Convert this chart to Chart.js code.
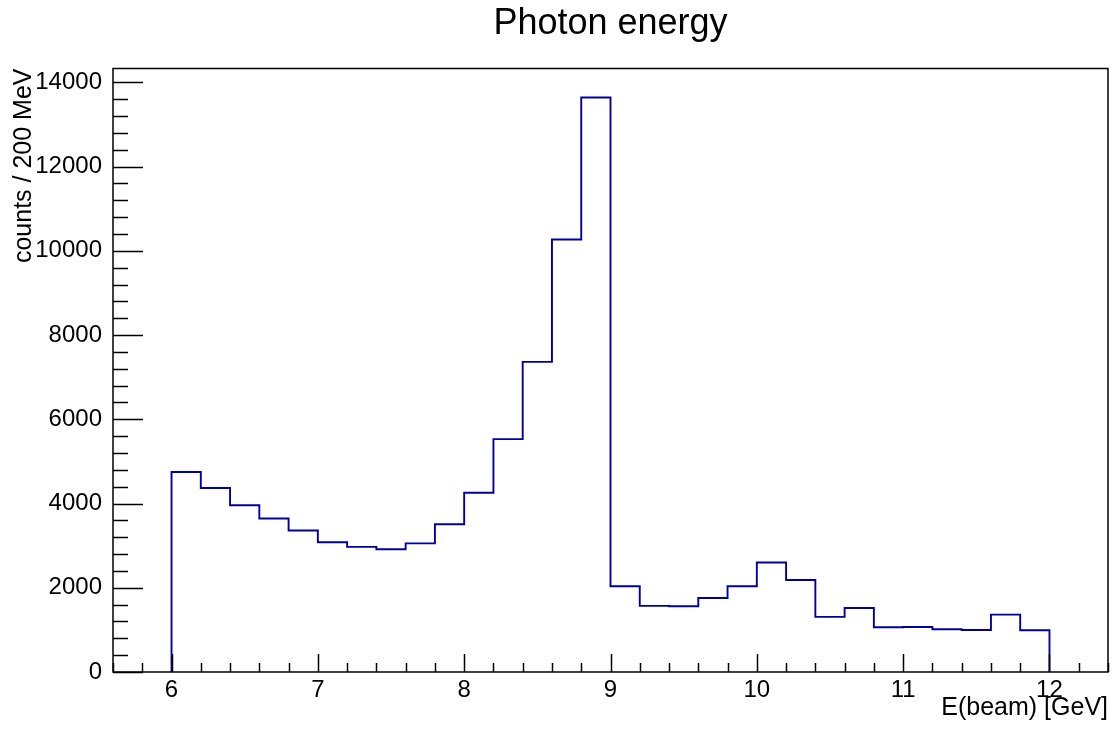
<!DOCTYPE html>
<html>
<head>
<meta charset="utf-8">
<title>Photon energy</title>
<script src="https://cdn.jsdelivr.net/npm/chart.js@4/dist/chart.umd.min.js"></script>
<style>
  html, body { margin: 0; padding: 0; background: #fff; }
  #chart { display: block; }
</style>
</head>
<body>
<canvas id="chart" width="1114" height="729"></canvas>
<script>
// bin low edges (200 MeV bins), in GeV
const binEdges = [
  6.0, 6.2, 6.4, 6.6, 6.8, 7.0, 7.2, 7.4, 7.6, 7.8,
  8.0, 8.2, 8.4, 8.6, 8.8, 9.0, 9.2, 9.4, 9.6, 9.8,
  10.0, 10.2, 10.4, 10.6, 10.8, 11.0, 11.2, 11.4, 11.6, 11.8
];
const binUpper = 12.0;

// counts per bin
const counts = [
  4750, 4370, 3960, 3645, 3360, 3080, 2970, 2915, 3055, 3510,
  4255, 5530, 7365, 10270, 13640, 2036, 1570, 1560, 1758, 2036,
  2600, 2185, 1308, 1520, 1062, 1068, 1014, 998, 1363, 990
];

const xTickLabels = [6, 7, 8, 9, 10, 11, 12];
const yTickLabels = [0, 2000, 4000, 6000, 8000, 10000, 12000, 14000];

const X_MIN = 5.6, X_MAX = 12.4;
const Y_MAX = 14330;
const FONT = '"Liberation Sans", Arial, sans-serif';

// histogram outline as step points (horizontal first, then vertical)
const points = [{ x: binEdges[0], y: 0 }, { x: binEdges[0], y: counts[0] }];
for (let i = 1; i < binEdges.length; i++) points.push({ x: binEdges[i], y: counts[i] });
points.push({ x: binUpper, y: counts[counts.length - 1] });
points.push({ x: binUpper, y: 0 });

// ROOT-style frame, inward ticks and centred title
const rootFrame = {
  id: 'rootFrame',
  afterDraw(chart) {
    const { ctx, chartArea: a, scales: { x, y } } = chart;
    ctx.save();
    ctx.strokeStyle = '#000';
    ctx.lineWidth = 1.5;

    // x ticks: major every 1 GeV, minor every 0.2 GeV
    ctx.beginPath();
    for (let k = 28; k <= 62; k++) {
      const px = Math.round(x.getPixelForValue(k / 5)) + 0.5;
      const len = k % 5 === 0 ? 18 : 9;
      ctx.moveTo(px, a.bottom);
      ctx.lineTo(px, a.bottom - len);
    }
    // y ticks: major every 2000, minor every 400
    for (let v = 0; v <= Y_MAX; v += 400) {
      const py = Math.round(y.getPixelForValue(v)) + 0.5;
      const len = v % 2000 === 0 ? 30 : 15;
      ctx.moveTo(a.left, py);
      ctx.lineTo(a.left + len, py);
    }
    ctx.stroke();

    ctx.strokeRect(a.left, a.top, a.right - a.left, a.bottom - a.top);

    ctx.fillStyle = '#000';
    ctx.font = '36px ' + FONT;
    ctx.textAlign = 'center';
    ctx.textBaseline = 'middle';
    ctx.fillText('Photon energy', (a.left + a.right) / 2, 24);
    ctx.restore();
  }
};

new Chart(document.getElementById('chart'), {
  type: 'line',
  data: {
    datasets: [{
      label: 'Photon energy',
      data: points,
      stepped: 'before',
      borderColor: '#0000a0',
      borderWidth: 1.9,
      pointRadius: 0,
      fill: false,
      tension: 0
    }]
  },
  options: {
    responsive: false,
    animation: false,
    layout: { padding: { left: 0, right: 6, top: 68.5, bottom: 0 } },
    plugins: {
      legend: { display: false },
      tooltip: { enabled: false },
      title: { display: false }
    },
    scales: {
      x: {
        type: 'linear',
        min: X_MIN,
        max: X_MAX,
        grid: { display: false, drawTicks: false },
        border: { display: false },
        afterBuildTicks: (s) => { s.ticks = xTickLabels.map((v) => ({ value: v })); },
        afterFit: (s) => { s.height = 57; s.paddingLeft = 0; s.paddingRight = 0; },
        ticks: {
          autoSkip: false,
          maxRotation: 0,
          padding: 4,
          color: '#000',
          font: { family: FONT, size: 24 },
          callback: (v) => String(v)
        },
        title: {
          display: true,
          text: 'E(beam) [GeV]',
          align: 'end',
          color: '#000',
          font: { family: FONT, size: 25 },
          padding: { top: 0, bottom: 6 }
        }
      },
      y: {
        type: 'linear',
        min: 0,
        max: Y_MAX,
        grid: { display: false, drawTicks: false },
        border: { display: false },
        afterBuildTicks: (s) => { s.ticks = yTickLabels.map((v) => ({ value: v })); },
        afterFit: (s) => { s.width = 113; s.paddingTop = 0; s.paddingBottom = 0; },
        ticks: {
          autoSkip: false,
          padding: 11,
          color: '#000',
          font: { family: FONT, size: 24 },
          callback: (v) => String(v)
        },
        title: {
          display: true,
          text: 'counts / 200 MeV',
          align: 'end',
          color: '#000',
          font: { family: FONT, size: 25 },
          padding: { top: 9, bottom: 0 }
        }
      }
    }
  },
  plugins: [rootFrame]
});
</script>
</body>
</html>
